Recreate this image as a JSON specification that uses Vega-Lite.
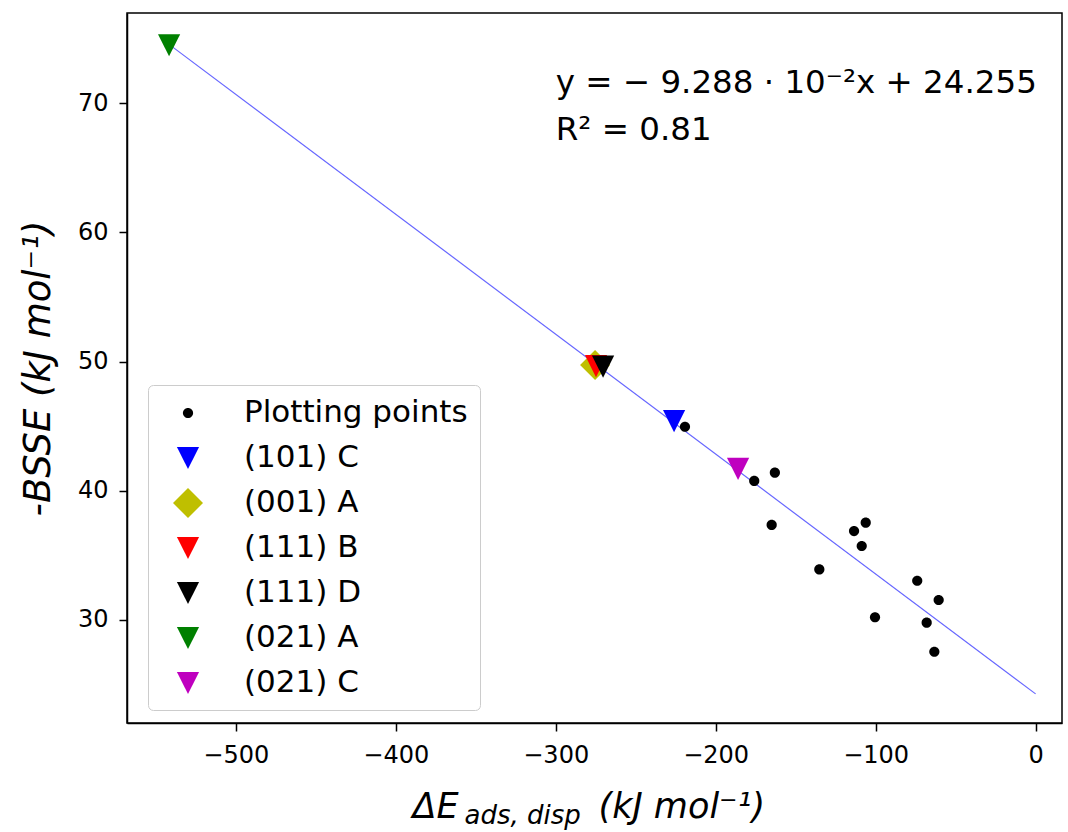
{
  "$schema": "https://vega.github.io/schema/vega-lite/v6.json",
  "width": 935,
  "height": 710,
  "autosize": {"type": "none"},
  "padding": {"left": 127, "top": 13, "right": 6, "bottom": 109},
  "background": "white",
  "config": {
    "font": "DejaVu Sans",
    "view": {"stroke": "black", "strokeWidth": 1.5},
    "axis": {
      "domainColor": "black", "domainWidth": 1.5,
      "tickColor": "black", "tickWidth": 1.5, "tickSize": 8,
      "labelFont": "DejaVu Sans", "labelFontSize": 24, "labelColor": "black",
      "grid": false,
      "titleFont": "DejaVu Sans", "titleColor": "black", "titleFontWeight": "normal",
      "titleFontStyle": "italic", "titleFontSize": 35
    }
  },
  "datasets": {
    "fitline": [
      {"x": -541.7, "y": 74.57},
      {"x": 0, "y": 24.255}
    ],
    "points": [
      {"x": -219.2, "y": 44.95, "series": "Plotting points"},
      {"x": -163.0, "y": 41.39, "series": "Plotting points"},
      {"x": -175.9, "y": 40.75, "series": "Plotting points"},
      {"x": -165.0, "y": 37.34, "series": "Plotting points"},
      {"x": -135.2, "y": 33.9, "series": "Plotting points"},
      {"x": -113.5, "y": 36.87, "series": "Plotting points"},
      {"x": -106.2, "y": 37.52, "series": "Plotting points"},
      {"x": -108.7, "y": 35.71, "series": "Plotting points"},
      {"x": -100.4, "y": 30.19, "series": "Plotting points"},
      {"x": -74.0, "y": 33.02, "series": "Plotting points"},
      {"x": -60.6, "y": 31.53, "series": "Plotting points"},
      {"x": -68.1, "y": 29.77, "series": "Plotting points"},
      {"x": -63.3, "y": 27.52, "series": "Plotting points"},
      {"x": -226.0, "y": 45.39, "series": "(101) C"},
      {"x": -275.4, "y": 49.73, "series": "(001) A"},
      {"x": -274.8, "y": 49.65, "series": "(111) B"},
      {"x": -270.4, "y": 49.6, "series": "(111) D"},
      {"x": -541.7, "y": 74.5, "series": "(021) A"},
      {"x": -186.0, "y": 41.68, "series": "(021) C"}
    ],
    "annotation": [
      {"x": -300, "y": 70.8, "label": "y = − 9.288 · 10⁻²x + 24.255"},
      {"x": -300, "y": 67.2, "label": "R² = 0.81"}
    ]
  },
  "encoding": {
    "y": {
      "field": "y", "type": "quantitative",
      "scale": {"domain": [22, 77], "nice": false, "zero": false},
      "axis": {"title": "-BSSE (kJ mol⁻¹)", "titleFontSize": 37, "values": [30, 40, 50, 60, 70], "labelPadding": 11, "titlePadding": 20}
    }
  },
  "layer": [
    {
      "data": {"name": "fitline"},
      "mark": {"type": "line", "color": "#0000ff", "strokeWidth": 1.2, "opacity": 0.6},
      "encoding": {
        "x": {
          "field": "x", "type": "quantitative",
          "scale": {"domain": [-568, 16.5], "nice": false, "zero": false},
          "axis": {
            "orient": "bottom", "values": [-500, -400, -300, -200, -100, 0], "labelPadding": 12,
            "title": "ΔE", "titleAlign": "left", "titleX": 285, "titleY": 94, "titleBaseline": "alphabetic"
          }
        }
      }
    },
    {
      "data": {"name": "points"},
      "mark": {"type": "point", "filled": true, "opacity": 1, "strokeWidth": 0, "size": 900},
      "encoding": {
        "x": {
          "field": "x", "type": "quantitative",
          "scale": {"domain": [-568, 16.5], "nice": false, "zero": false},
          "axis": {
            "orient": "bottom", "domain": false, "ticks": false, "labels": false,
            "title": "ads, disp", "titleFontSize": 26, "titleAlign": "left", "titleX": 337, "titleY": 100, "titleBaseline": "alphabetic"
          }
        },
        "color": {
          "field": "series", "type": "nominal",
          "scale": {
            "domain": ["Plotting points", "(101) C", "(001) A", "(111) B", "(111) D", "(021) A", "(021) C"],
            "range": ["#000000", "#0000ff", "#bfbf00", "#ff0000", "#000000", "#008000", "#bf00bf"]
          },
          "legend": {
            "title": null, "orient": "none", "legendX": 21, "legendY": 372,
            "fillColor": "white", "strokeColor": "#cccccc", "cornerRadius": 5,
            "padding": 12, "rowPadding": 14,
            "labelFont": "DejaVu Sans", "labelFontSize": 31, "labelColor": "black", "labelLimit": 500,
            "symbolOffset": 12, "labelOffset": 40, "symbolSize": 900
          }
        },
        "shape": {
          "field": "series", "type": "nominal",
          "scale": {
            "domain": ["Plotting points", "(101) C", "(001) A", "(111) B", "(111) D", "(021) A", "(021) C"],
            "range": [
              "M0.34,0A0.34,0.34,0,1,1,-0.34,0A0.34,0.34,0,1,1,0.34,0Z",
              "M-0.74,-0.74L0.74,-0.74L0,0.74Z",
              "M0,-1L1,0L0,1L-1,0Z",
              "M-0.74,-0.74L0.74,-0.74L0,0.74Z",
              "M-0.74,-0.74L0.74,-0.74L0,0.74Z",
              "M-0.74,-0.74L0.74,-0.74L0,0.74Z",
              "M-0.74,-0.74L0.74,-0.74L0,0.74Z"
            ]
          }
        }
      }
    },
    {
      "data": {"name": "annotation"},
      "mark": {"type": "text", "align": "left", "baseline": "alphabetic", "font": "DejaVu Sans", "fontSize": 32.5, "color": "black"},
      "encoding": {
        "x": {
          "field": "x", "type": "quantitative",
          "scale": {"domain": [-568, 16.5], "nice": false, "zero": false},
          "axis": {
            "orient": "bottom", "domain": false, "ticks": false, "labels": false,
            "title": "(kJ mol⁻¹)", "titleAlign": "left", "titleX": 471, "titleY": 94, "titleBaseline": "alphabetic"
          }
        },
        "text": {"field": "label"}
      }
    }
  ],
  "resolve": {"axis": {"x": "independent"}}
}
